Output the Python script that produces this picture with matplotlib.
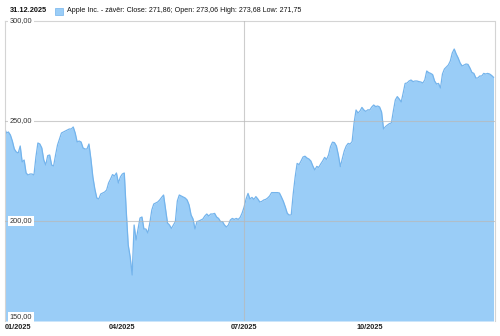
import numpy as np
import pandas as pd
import matplotlib
matplotlib.use("Agg")
import matplotlib.pyplot as plt

plt.rcParams['font.family'] = ['Liberation Sans', 'DejaVu Sans']

# obchodni dny 2025 (NYSE svatky vynechany)
holidays = ['2025-01-09', '2025-01-20', '2025-02-17', '2025-04-18', '2025-05-26',
            '2025-06-19', '2025-07-04', '2025-09-01', '2025-11-27', '2025-12-25']
sessions = pd.bdate_range('2025-01-02', '2025-12-31', freq='C', holidays=holidays)

# zaviraci ceny
closes = [
    246.5, 244, 244.5, 243, 240, 236, 234.5, 234, 237.5, 229.5,
    230.5, 224, 223, 223.5, 223.5, 223, 232, 239, 238.5, 236.5,
    230.5, 228, 232.7, 233, 228, 227.5, 233, 238, 241, 244,
    244.5, 245, 245.5, 246, 246, 247, 244, 239.5, 240, 239.5,
    236.5, 236, 236, 238.5, 231, 222, 216, 211.5, 211, 213.5,
    214, 214.5, 215.5, 219, 221, 223.2, 222.5, 224, 219, 222,
    223.5, 224, 205, 188, 182, 173, 198, 190.5, 196, 201.5,
    202, 196, 196, 194, 199, 205.5, 208.5, 209, 209.5, 210.5,
    211.8, 213, 206, 199, 198, 196.3, 198, 199.7, 210, 213,
    212.5, 212, 211.5, 210.5, 208, 203, 201, 196, 199.7, 200,
    200.5, 201, 202.5, 203.5, 202.5, 203.5, 203.5, 203.8, 202, 201.3,
    199.7, 199.7, 198, 197, 198, 200.5, 201.3, 200.8, 201.3, 200.8,
    201.8, 204, 207, 211, 213.8, 211, 211.8, 210.8, 212.2, 211,
    209.5, 209.8, 210.5, 210.8, 211.5, 212.5, 214.2, 214.2, 214.2, 214.2,
    214, 212, 209.8, 207, 203.8, 203, 203, 213.5, 222, 228.8,
    228.2, 230, 232, 232.4, 231.5, 231, 230, 227.5, 225.5, 227.3,
    226.8, 228.5, 230, 231.8, 230.8, 233, 237.2, 239.4, 239.2, 237.5,
    233, 227.2, 231, 235, 237.5, 238.8, 238.5, 239.7, 249, 255.5,
    254, 255, 256.8, 255.5, 254.8, 255.6, 255.5, 257, 258, 257.2,
    257.5, 257, 254.5, 246, 247.2, 248, 248.7, 249, 255, 260.5,
    262.2, 261, 259.5, 264, 268.8, 269, 270, 270.5, 269.7, 270,
    270, 269.7, 269.5, 269, 270.5, 275, 274.2, 273.8, 273.2, 270,
    268.5, 268.8, 266.5, 273.5, 276, 277, 278, 280, 284, 286,
    283.5, 281.5, 279, 277.5, 278, 278.5, 278.3, 276.5, 274.3, 273.8,
    271.5, 271.5, 272.5, 272.5, 273.8, 273.5, 273.8, 273.5, 272.8, 271.86,
]
tick_months = [1, 4, 7, 10]
y_ticks = [150, 200, 250, 300]
legend_text = "Apple Inc. - závěr: Close: 271,86; Open: 273,06 High: 273,68 Low: 271,75"
date_text = "31.12.2025"

x = np.arange(len(closes))
fill_col = '#9acdf7'
line_col = '#74b4ec'
grid_col = '#d4d4d4'

fig = plt.figure(figsize=(5, 3.36), dpi=100)
ax = fig.add_axes([4.5 / 500, 1 - 321 / 336, 490 / 500, 300 / 336])
ax.fill_between(x, closes, 150, color=fill_col, lw=0, zorder=1)
ax.plot(x, closes, color=line_col, lw=0.9, zorder=2)
ax.set_xlim(0, len(closes) - 0.5)
ax.set_ylim(150, 300)

for s in ['top', 'left', 'right']:
    ax.spines[s].set_color(grid_col)
    ax.spines[s].set_linewidth(0.8)
ax.spines['bottom'].set_visible(False)

# vodorovne mrizky + popisky uvnitr grafu
for v in y_ticks[1:-1]:
    ax.axhline(v, color='#b8b8b8', lw=0.8, alpha=0.7, zorder=3)
for v in y_ticks:
    ypos = v + 2 if v == y_ticks[0] else v
    ax.text(2.5, ypos, f"{v:.2f}".replace('.', ','), fontsize=5.3, color='#333333',
            va='center', ha='left', zorder=5,
            bbox=dict(boxstyle='square,pad=0.25', fc='white', ec='none'))

tick_pos = [int(np.argmax(sessions.month == m)) for m in tick_months]
ax.axvline(tick_pos[2], color='#b8b8b8', lw=0.8, alpha=0.7, zorder=3)
ax.set_xticks(tick_pos)
ax.set_xticklabels([f"{m:02d}/2025" for m in tick_months], fontsize=5.3,
                   fontweight='bold', color='#222222')
ax.tick_params(axis='x', length=0, pad=2.5)
ax.get_xticklabels()[0].set_ha('left')
ax.set_yticks([])

fig.text(10 / 500, 1 - 10 / 336, date_text, fontsize=5.3, fontweight='bold',
         va='center', ha='left', color='#111111')
fig.patches.append(plt.Rectangle((55 / 500, 1 - 15 / 336), 8 / 500, 7 / 336,
                                 transform=fig.transFigure, fc=fill_col,
                                 ec=line_col, lw=0.5))
fig.text(67 / 500, 1 - 10 / 336, legend_text, fontsize=5.1,
         va='center', ha='left', color='#111111')

fig.savefig('out.png', dpi=100)
